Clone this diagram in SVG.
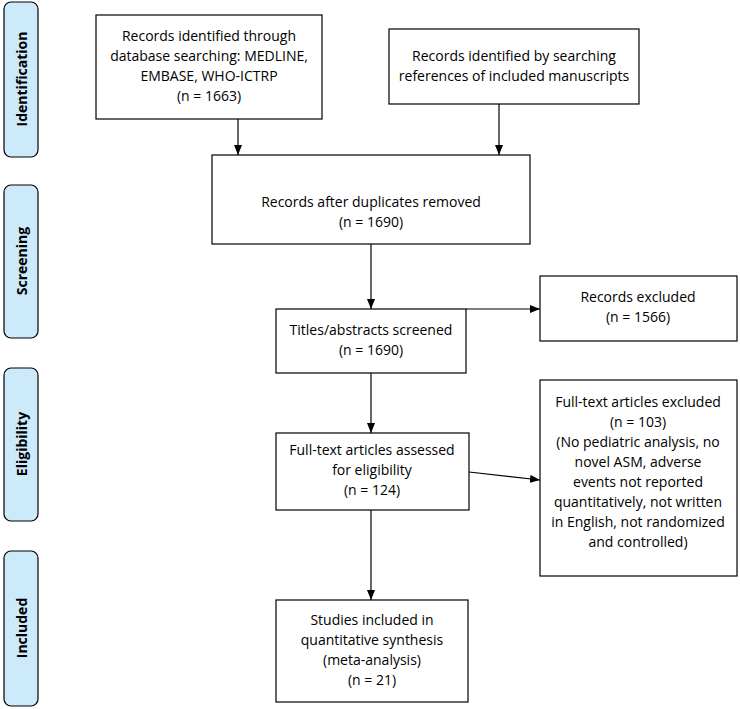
<svg xmlns="http://www.w3.org/2000/svg" width="740" height="709" viewBox="0 0 740 709">
<defs><marker id="ah" markerWidth="10" markerHeight="8" refX="10" refY="4" orient="auto" markerUnits="userSpaceOnUse"><path d="M0,0 L10,4 L0,8 z" fill="#000"/></marker></defs>
<style>
.b{fill:#fff;stroke:#000;stroke-width:1.2}
.s{fill:#cdeafa;stroke:#000;stroke-width:1.2}
text{font-family:"Open Sans","Noto Sans",sans-serif;font-size:14px;fill:#000;text-anchor:middle}
.l{font-weight:bold;font-size:14px}
.c line{stroke:#000;stroke-width:1.2;marker-end:url(#ah)}
</style>
<rect width="740" height="709" fill="#fff"/>
<g id="side-identification"><rect class="s" x="4" y="2" width="34" height="155" rx="7"/><text class="l" transform="translate(27,79) rotate(-90)">Identification</text></g>
<g id="side-screening"><rect class="s" x="4" y="185" width="34" height="153" rx="7"/><text class="l" transform="translate(27,261) rotate(-90)">Screening</text></g>
<g id="side-eligibility"><rect class="s" x="4" y="368" width="34" height="153" rx="7"/><text class="l" transform="translate(27,444) rotate(-90)">Eligibility</text></g>
<g id="side-included"><rect class="s" x="4" y="551" width="34" height="155" rx="7"/><text class="l" transform="translate(27,628) rotate(-90)">Included</text></g>
<g id="n1"><rect class="b" x="96" y="15" width="226" height="104"/><text x="209" y="41">Records identified through</text><text x="209" y="61">database searching: MEDLINE,</text><text x="209" y="81">EMBASE, WHO-ICTRP</text><text x="209" y="101">(n = 1663)</text></g>
<g id="n2"><rect class="b" x="389" y="29" width="250" height="75"/><text x="514" y="61">Records identified by searching</text><text x="514" y="81">references of included manuscripts</text><text x="514" y="101" display="none"/></g>
<g id="n2b"><text x="514" y="91" display="none"/></g>
<g id="n3"><rect class="b" x="212" y="155" width="318" height="89"/><text x="371" y="207">Records after duplicates removed</text><text x="371" y="227">(n = 1690)</text></g>
<g id="n4"><rect class="b" x="276" y="309" width="190" height="64"/><text x="371" y="335">Titles/abstracts screened</text><text x="371" y="355">(n = 1690)</text></g>
<g id="n5"><rect class="b" x="540" y="276" width="197" height="65"/><text x="638" y="302">Records excluded</text><text x="638" y="322">(n = 1566)</text></g>
<g id="n6"><rect class="b" x="276" y="433" width="193" height="77"/><text x="372" y="455">Full-text articles assessed</text><text x="372" y="475">for eligibility</text><text x="372" y="495">(n = 124)</text></g>
<g id="n7"><rect class="b" x="540" y="380" width="197" height="196"/><text x="638" y="407">Full-text articles excluded</text><text x="638" y="427">(n = 103)</text><text x="638" y="447">(No pediatric analysis, no</text><text x="638" y="467">novel ASM, adverse</text><text x="638" y="487">events not reported</text><text x="638" y="507">quantitatively, not written</text><text x="638" y="527">in English, not randomized</text><text x="638" y="547">and controlled)</text></g>
<g id="n8"><rect class="b" x="276" y="600" width="192" height="102"/><text x="372" y="625">Studies included in</text><text x="372" y="645">quantitative synthesis</text><text x="372" y="665">(meta-analysis)</text><text x="372" y="685">(n = 21)</text></g>
<g id="connectors" class="c">
<line x1="238" y1="119" x2="238" y2="155"/>
<line x1="499" y1="104" x2="499" y2="155"/>
<line x1="371" y1="244" x2="371" y2="309"/>
<line x1="466" y1="309" x2="540" y2="309"/>
<line x1="371" y1="373" x2="371" y2="433"/>
<line x1="469" y1="472" x2="540" y2="480"/>
<line x1="371" y1="510" x2="371" y2="600"/>
</g>
</svg>
